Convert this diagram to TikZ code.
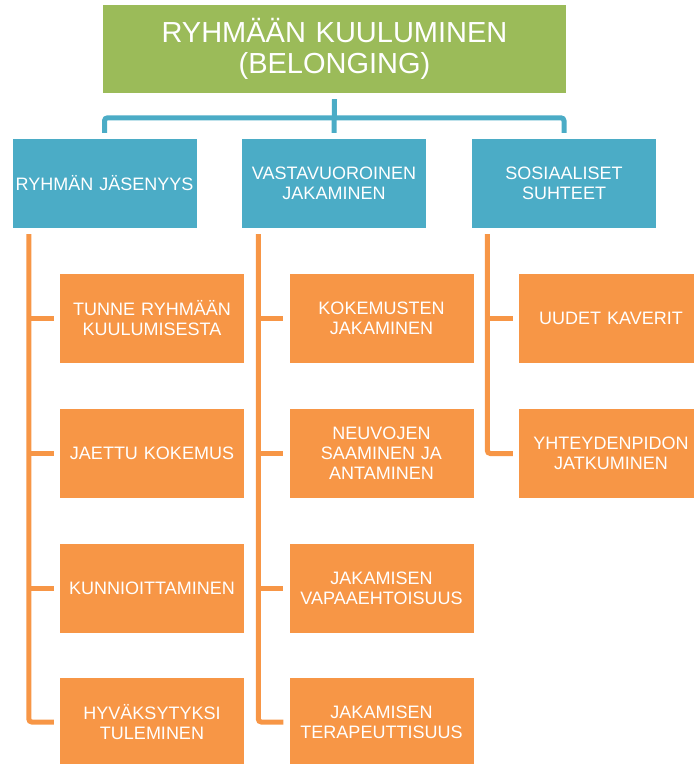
\documentclass[tikz,border=0pt]{standalone}
\usepackage{fontspec}
\setmainfont{Liberation Sans}
\usetikzlibrary{calc}
\definecolor{cgreen}{HTML}{9BBB59}
\definecolor{cteal}{HTML}{4BACC6}
\definecolor{corange}{HTML}{F79646}
\begin{document}
\begin{tikzpicture}[x=1pt,y=-1pt,
  box/.style={rectangle, inner sep=0pt, text=white, align=center,
    font=\fontsize{18}{20}\selectfont, minimum width=184pt,
    text width=184pt, minimum height=89pt},
  topbox/.style={box, fill=cgreen, minimum width=463pt, text width=463pt,
    minimum height=88pt, font=\fontsize{29}{31}\selectfont},
  catbox/.style={box, fill=cteal},
  itembox/.style={box, fill=corange},
  tealline/.style={draw=cteal, line width=5pt, rounded corners=3pt},
  orangeline/.style={draw=corange, line width=5pt, rounded corners=3pt}]
\useasboundingbox (0,0) rectangle (694,764);

\node[topbox] (top) at (334.5,49) {RYHMÄÄN KUULUMINEN\\(BELONGING)};

\node[catbox] (c1) at (104.5,183.5) {RYHMÄN JÄSENYYS};
\node[catbox] (c2) at (334,183.5) {VASTAVUOROINEN\\JAKAMINEN};
\node[catbox] (c3) at (564,183.5) {SOSIAALISET\\SUHTEET};

\node[itembox] (a1) at (152,318.5) {TUNNE RYHMÄÄN\\KUULUMISESTA};
\node[itembox] (a2) at (152,453.5) {JAETTU KOKEMUS};
\node[itembox] (a3) at (152,588) {KUNNIOITTAMINEN};
\node[itembox] (a4) at (152,722) {HYVÄKSYTYKSI\\TULEMINEN};

\node[itembox] (b1) at (381.5,318.5) {KOKEMUSTEN\\JAKAMINEN};
\node[itembox] (b2) at (381.5,453.5) {NEUVOJEN\\SAAMINEN JA\\ANTAMINEN};
\node[itembox] (b3) at (381.5,588) {JAKAMISEN\\VAPAAEHTOISUUS};
\node[itembox] (b4) at (381.5,722) {JAKAMISEN\\TERAPEUTTISUUS};

\node[itembox] (d1) at (611,318.5) {UUDET KAVERIT};
\node[itembox] (d2) at (611,453.5) {YHTEYDENPIDON\\JATKUMINEN};

% teal connectors
\draw[tealline] ($(top.south)+(0,6)$) -- ($(c2.north)+(0,-6)$);
\draw[tealline] ($(c1.north)+(0,-6)$) -- ++(0,-15) -| ($(c3.north)+(0,-6)$);

% orange connectors
\coordinate (va) at ($(c1.south west)+(16.5,6)$);
\coordinate (vb) at ($(c2.south west)+(16.5,6)$);
\coordinate (vd) at ($(c3.south west)+(15.5,6)$);
\draw[orangeline] (va) |- ($(a4.west)+(-6,0)$);
\foreach \n in {a1,a2,a3}
  \draw[orangeline] (va |- \n.west) -- ($(\n.west)+(-6,0)$);
\draw[orangeline] (vb) |- ($(b4.west)+(-6,0)$);
\foreach \n in {b1,b2,b3}
  \draw[orangeline] (vb |- \n.west) -- ($(\n.west)+(-6,0)$);
\draw[orangeline] (vd) |- ($(d2.west)+(-6,0)$);
\draw[orangeline] (vd |- d1.west) -- ($(d1.west)+(-6,0)$);
\end{tikzpicture}
\end{document}
